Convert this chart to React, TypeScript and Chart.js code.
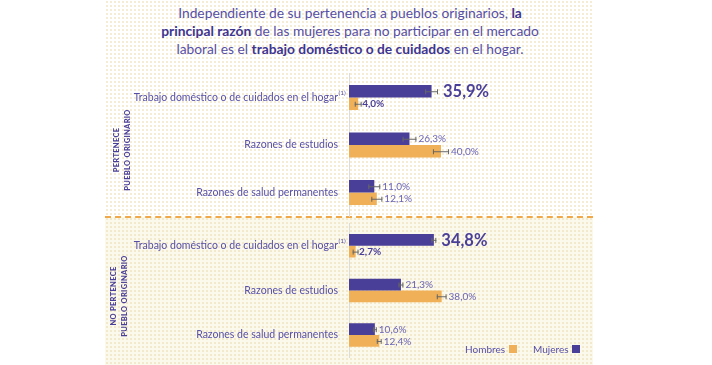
import React, { useEffect, useRef } from "react";
import { Chart, registerables } from "chart.js";

Chart.register(...registerables);

const categories = [
  "Trabajo doméstico o de cuidados en el hogar",
  "Razones de estudios",
  "Razones de salud permanentes",
];
const mujeresPertenece = [35.9, 26.3, 11.0];
const hombresPertenece = [4.0, 40.0, 12.1];
const mujeresPerteneceErr = [2.8, 3.0, 2.6];
const hombresPerteneceErr = [1.5, 3.5, 2.4];

const mujeresNoPertenece = [34.8, 21.3, 10.6];
const hombresNoPertenece = [2.7, 38.0, 12.4];
const mujeresNoPerteneceErr = [1.0, 1.0, 0.8];
const hombresNoPerteneceErr = [1.2, 2.0, 1.0];

const seriesNames = ["Mujeres", "Hombres"];
const footnoteMark = "(1)";

const PURPLE = "#4a3f98";
const ORANGE = "#f0b057";
const TEXT = "#574fa5";
const LIGHT_TEXT = "#6b64b4";

const fmt = (v: number) => v.toFixed(1).replace(".", ",") + "%";

function makePlugin(errs: number[][]) {
  return {
    id: "errlabels",
    afterDatasetsDraw(chart: any) {
      const ctx = chart.ctx;
      const xs = chart.scales.x;
      chart.data.datasets.forEach((ds: any, di: number) => {
        const meta = chart.getDatasetMeta(di);
        meta.data.forEach((bar: any, i: number) => {
          const v = ds.data[i];
          const e = errs[di][i];
          const y = bar.y;
          const x0 = xs.getPixelForValue(v - e);
          const x1 = xs.getPixelForValue(v + e);
          ctx.save();
          ctx.strokeStyle = "#666";
          ctx.lineWidth = 1;
          ctx.beginPath();
          ctx.moveTo(x0, y + 0.5);
          ctx.lineTo(x1, y + 0.5);
          ctx.moveTo(x0 + 0.5, y - 2);
          ctx.lineTo(x0 + 0.5, y + 3);
          ctx.moveTo(x1 - 0.5, y - 2);
          ctx.lineTo(x1 - 0.5, y + 3);
          ctx.stroke();
          let font = "10px Lato";
          let color = LIGHT_TEXT;
          let gap = 2;
          if (i === 0 && di === 0) {
            font = "bold 16.5px Lato";
            color = PURPLE;
            gap = 5;
          } else if (i === 0) {
            font = "bold 10px Lato";
            color = PURPLE;
            gap = 0.5;
          }
          ctx.font = font;
          ctx.fillStyle = color;
          ctx.textAlign = "left";
          ctx.textBaseline = "middle";
          ctx.fillText(fmt(v), x1 + gap, y + 0.5);
          ctx.restore();
        });
      });
      const ys = chart.scales.y;
      const ty = ys.getPixelForValue(0);
      ctx.save();
      ctx.font = "6.5px Lato";
      ctx.fillStyle = TEXT;
      ctx.textAlign = "left";
      ctx.textBaseline = "middle";
      ctx.fillText(footnoteMark, 338.5, ty - 5);
      ctx.restore();
    },
  };
}

function BarPanel(props: {
  top: number;
  height: number;
  padTop: number;
  padBottom: number;
  mujeres: number[];
  hombres: number[];
  errM: number[];
  errH: number[];
  xMax: number;
}) {
  const ref = useRef<HTMLCanvasElement | null>(null);
  useEffect(() => {
    if (!ref.current) return;
    const chart = new Chart(ref.current, {
      type: "bar",
      data: {
        labels: categories,
        datasets: [
          {
            label: seriesNames[0],
            data: props.mujeres,
            backgroundColor: PURPLE,
            borderWidth: 0,
            categoryPercentage: 0.526,
            barPercentage: 1,
          },
          {
            label: seriesNames[1],
            data: props.hombres,
            backgroundColor: ORANGE,
            borderWidth: 0,
            categoryPercentage: 0.526,
            barPercentage: 1,
          },
        ],
      },
      options: {
        indexAxis: "y",
        responsive: false,
        animation: false,
        layout: {
          padding: { top: props.padTop, bottom: props.padBottom, left: 0, right: 133 },
        },
        plugins: { legend: { display: false }, tooltip: { enabled: false } },
        scales: {
          x: { display: false, min: 0, max: props.xMax },
          y: {
            grid: { display: false, drawTicks: true, tickLength: 11 },
            border: { display: true, color: "#dcdcdc", width: 1 },
            ticks: {
              color: TEXT,
              font: { family: "Lato", size: 10.5 },
              padding: 0,
            },
            afterFit: (s: any) => {
              s.width = 349;
            },
          },
        },
      } as any,
      plugins: [makePlugin([props.errM, props.errH])],
    });
    return () => chart.destroy();
  }, []);
  return (
    <canvas
      ref={ref}
      width={712}
      height={props.height}
      style={{ position: "absolute", left: 0, top: props.top, width: 712, height: props.height }}
    />
  );
}

const dots = "radial-gradient(circle, rgba(236,222,180,0.55) 0.8px, transparent 1.2px)";

export default function App() {
  return (
    <div
      style={{
        position: "fixed",
        left: 0,
        top: 0,
        width: 712,
        height: 365,
        background: "#ffffff",
        overflow: "hidden",
        fontFamily: "Lato, sans-serif",
      }}
    >
      <div
        style={{
          position: "absolute",
          left: 105,
          top: 0,
          width: 488,
          height: 217,
          backgroundColor: "#ffffff",
          backgroundImage: dots,
          backgroundSize: "4px 4px",
        }}
      />
      <div
        style={{
          position: "absolute",
          left: 105,
          top: 217,
          width: 488,
          height: 148,
          backgroundColor: "#fbf8ec",
          backgroundImage: dots,
          backgroundSize: "4px 4px",
        }}
      />
      <div
        style={{
          position: "absolute",
          left: 105,
          top: 215.5,
          width: 488,
          height: 0,
          borderTop: "2px dashed #f0a848",
        }}
      />
      <div
        style={{
          position: "absolute",
          left: 105,
          top: 3.5,
          width: 490,
          textAlign: "center",
          fontSize: 13.8,
          lineHeight: "18px",
          color: TEXT,
        }}
      >
        Independiente de su pertenencia a pueblos originarios, <b style={{ color: "#3e3591" }}>la</b>
        <br />
        <b style={{ color: "#3e3591" }}>principal razón</b> de las mujeres para no participar en el mercado
        <br />
        laboral es el <b style={{ color: "#3e3591" }}>trabajo doméstico o de cuidados</b> en el hogar.
      </div>

      <BarPanel
        top={55}
        height={170}
        padTop={18.75}
        padBottom={8.75}
        mujeres={mujeresPertenece}
        hombres={hombresPertenece}
        errM={mujeresPerteneceErr}
        errH={hombresPerteneceErr}
        xMax={100}
      />
      <BarPanel
        top={212}
        height={153}
        padTop={11.4}
        padBottom={7.6}
        mujeres={mujeresNoPertenece}
        hombres={hombresNoPertenece}
        errM={mujeresNoPerteneceErr}
        errH={hombresNoPerteneceErr}
        xMax={94.3}
      />

      <div
        style={{
          position: "absolute",
          left: 121.5,
          top: 149.5,
          transform: "translate(-50%, -50%) rotate(-90deg)",
          whiteSpace: "nowrap",
          textAlign: "center",
          fontSize: 7.5,
          fontWeight: 900,
          lineHeight: "11px",
          letterSpacing: "0.3px",
          color: PURPLE,
        }}
      >
        PERTENECE
        <br />
        PUEBLO ORIGINARIO
      </div>
      <div
        style={{
          position: "absolute",
          left: 118.5,
          top: 296,
          transform: "translate(-50%, -50%) rotate(-90deg)",
          whiteSpace: "nowrap",
          textAlign: "center",
          fontSize: 7.5,
          fontWeight: 900,
          lineHeight: "11px",
          letterSpacing: "0.3px",
          color: PURPLE,
        }}
      >
        NO PERTENECE
        <br />
        PUEBLO ORIGINARIO
      </div>

      <div
        style={{
          position: "absolute",
          left: 465,
          top: 343,
          fontSize: 10,
          lineHeight: "12px",
          color: TEXT,
          display: "flex",
          alignItems: "center",
          whiteSpace: "nowrap",
        }}
      >
        <span>Hombres</span>
        <span style={{ display: "inline-block", width: 8, height: 8, background: ORANGE, marginLeft: 4 }} />
        <span style={{ marginLeft: 16 }}>Mujeres</span>
        <span style={{ display: "inline-block", width: 8, height: 8, background: PURPLE, marginLeft: 3 }} />
      </div>
    </div>
  );
}
